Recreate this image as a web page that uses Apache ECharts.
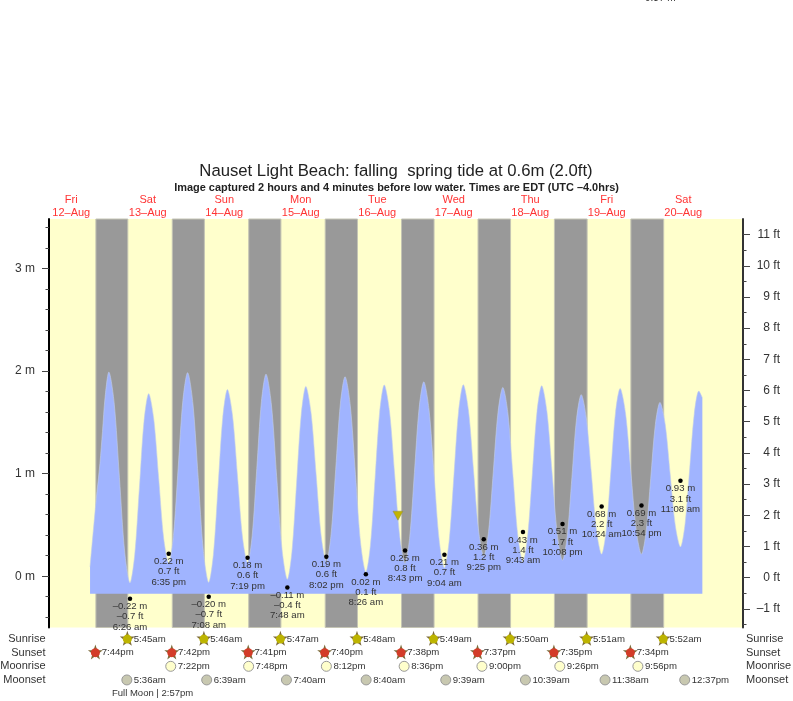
<!DOCTYPE html>
<html><head><meta charset="utf-8">
<style>html,body{margin:0;padding:0;background:#fff}#c{width:793px;height:701px}</style>
<script src="https://cdn.jsdelivr.net/npm/echarts@6/dist/echarts.min.js"></script>
</head><body><div id="c"></div>
<script>
// all times are hours since 12-Aug 00:00 EDT
const dayNames=['Fri','Sat','Sun','Mon','Tue','Wed','Thu','Fri','Sat'];
const dayDates=['12–Aug','13–Aug','14–Aug','15–Aug','16–Aug','17–Aug','18–Aug','19–Aug','20–Aug'];
const dayNoons=[12,36,60,84,108,132,156,180,204];
const sunsetHours=[19.73,43.7,67.68,91.67,115.63,139.62,163.58,187.57];
const sunriseHours=[29.75,53.77,77.78,101.8,125.82,149.83,173.85,197.87];
const sunsetText=['7:44pm','7:42pm','7:41pm','7:40pm','7:38pm','7:37pm','7:35pm','7:34pm'];
const sunriseText=['5:45am','5:46am','5:47am','5:48am','5:49am','5:50am','5:51am','5:52am'];
const moonriseHours=[43.37,67.8,92.2,116.6,141,165.43,189.93];
const moonriseText=['7:22pm','7:48pm','8:12pm','8:36pm','9:00pm','9:26pm','9:56pm'];
const moonsetHours=[29.6,54.65,79.67,104.67,129.65,154.65,179.63,204.62];
const moonsetText=['5:36am','6:39am','7:40am','8:40am','9:39am','10:39am','11:38am','12:37pm'];
const lowHours=[30.43,42.58,55.13,67.32,79.8,92.03,104.43,116.72,129.07,141.42,153.72,166.13,178.4,190.9,203.13];
const lowMeters=[-0.22,0.22,-0.20,0.18,-0.11,0.19,0.02,0.25,0.21,0.36,0.43,0.51,0.68,0.69,0.93];
const lowMeterText=['–0.22 m','0.22 m','–0.20 m','0.18 m','–0.11 m','0.19 m','0.02 m','0.25 m','0.21 m','0.36 m','0.43 m','0.51 m','0.68 m','0.69 m','0.93 m'];
const lowFeetText=['–0.7 ft','0.7 ft','–0.7 ft','0.6 ft','–0.4 ft','0.6 ft','0.1 ft','0.8 ft','0.7 ft','1.2 ft','1.4 ft','1.7 ft','2.2 ft','2.3 ft','3.1 ft'];
const lowTimeText=['6:26 am','6:35 pm','7:08 am','7:19 pm','7:48 am','8:02 pm','8:26 am','8:43 pm','9:04 am','9:25 pm','9:43 am','10:08 pm','10:24 am','10:54 pm','11:08 am'];
const tideHours=[17.9,19.8,21.0,21.8,22.6,23.8,
25.46,27.12,28.77,30.43, 31.9,33.37,34.83,36.3, 37.87,39.44,41.01,42.58, 44.06,45.54,47.02,48.5,
50.16,51.82,53.47,55.13, 56.6,58.07,59.53,61.0, 62.58,64.16,65.74,67.32, 68.77,70.21,71.66,73.1,
74.78,76.45,78.13,79.8, 81.25,82.7,84.15,85.6, 87.21,88.82,90.42,92.03, 93.5,94.97,96.43,97.9,
99.53,101.17,102.8,104.43, 105.87,107.32,108.76,110.2, 111.83,113.46,115.09,116.72, 118.19,119.66,121.13,122.6,
124.22,125.84,127.45,129.07, 130.55,132.04,133.52,135.0, 136.6,138.21,139.82,141.42, 142.92,144.41,145.9,147.4,
148.98,150.56,152.14,153.72, 155.19,156.66,158.13,159.6, 161.23,162.87,164.5,166.13, 167.6,169.07,170.53,172.0,
173.6,175.2,176.8,178.4, 179.85,181.3,182.75,184.2, 185.88,187.55,189.23,190.9, 192.35,193.8,195.25,196.7,
198.31,199.92,201.52,203.13, 204.57,206.02,207.46,208.9, 210.0];
const tideMeters=[0.09,0.74,1.1,1.41,1.74,1.99,
1.69,0.96,0.235,-0.065, 0.204,0.858,1.511,1.78, 1.538,0.953,0.367,0.125, 0.397,1.055,1.713,1.985,
1.686,0.963,0.239,-0.06, 0.214,0.88,1.546,1.82, 1.573,0.975,0.377,0.13, 0.399,1.05,1.701,1.97,
1.678,0.97,0.262,-0.03, 0.244,0.91,1.576,1.85, 1.6,0.995,0.39,0.14, 0.404,1.043,1.681,1.945,
1.667,0.993,0.318,0.04, 0.306,0.953,1.599,1.865, 1.611,0.995,0.379,0.125, 0.383,1.01,1.637,1.895,
1.63,0.988,0.345,0.08, 0.341,0.974,1.606,1.867, 1.623,1.031,0.439,0.195, 0.435,1.018,1.6,1.84,
1.592,0.99,0.388,0.14, 0.391,0.999,1.606,1.857, 1.608,1.006,0.404,0.155, 0.391,0.963,1.534,1.77,
1.543,0.993,0.442,0.215, 0.451,1.023,1.594,1.83, 1.594,1.023,0.451,0.215, 0.431,0.955,1.479,1.695,
1.489,0.99,0.491,0.285, 0.507,1.045,1.583,1.805, 1.74];
const tideBaseMeters=-0.17;
const nowHour=114.5, nowMeters=0.59;
const meterTicks=[0,1,2,3];
const meterMinorTicks=[-0.4,-0.2,0.2,0.4,0.6,0.8,1.2,1.4,1.6,1.8,2.2,2.4,2.6,2.8,3.2,3.4];
const feetTicks=[-1,0,1,2,3,4,5,6,7,8,9,10,11];
const feetMinorTicks=[-1.5,-0.5,0.5,1.5,2.5,3.5,4.5,5.5,6.5,7.5,8.5,9.5,10.5];
const rowNames=['Moonset','Moonrise','Sunset','Sunrise'];
const titleText='Nauset Light Beach: falling  spring tide at 0.6m (2.0ft)';
const subtitleText='Image captured 2 hours and 4 minutes before low water. Times are EDT (UTC –4.0hrs)';
const moonPhaseText='Full Moon | 2:57pm';
const topCutText='9.37 m';

const FONT='"Liberation Sans",Arial,sans-serif', INK='#333';
const STAR='path://M50 0L62 35L98 35L69 57L79 92L50 71L21 92L31 57L2 35L38 35Z';
const zip=(a,b)=>a.map((v,i)=>[v,b[i]]);
const xRange={min:5.02,max:222.75};

function rowSeries(hours,texts,row,fill,kind){
  const data=hours.map((h,i)=>({value:[h,row],text:texts[i]}));
  const out=[];
  if(kind==='star'){
    out.push({type:'scatter',xAxisIndex:1,yAxisIndex:4,data:data.map(d=>d.value),symbol:STAR,symbolSize:15,symbolOffset:[-0.5,-0.7],silent:true,z:5,
      itemStyle:{color:'#7d6b3a',opacity:1}});
  }
  out.push({type:'scatter',xAxisIndex:1,yAxisIndex:4,data:data,symbol:'circle',symbolSize:kind==='star'?9:10,symbolOffset:[-0.5,0],silent:true,z:6,
    itemStyle:{color:fill,borderColor:kind==='star'?fill:'#999',borderWidth:kind==='star'?0:1,opacity:1},
    label:{show:true,position:'right',distance:kind==='star'?1.8:1.5,color:INK,fontFamily:FONT,fontSize:9.6,formatter:p=>p.data.text}});
  return out;
}

const chart=echarts.init(document.getElementById('c'),null,{renderer:'canvas'});
chart.setOption({
  animation:false,backgroundColor:'#fff',
  textStyle:{fontFamily:FONT},
  title:[
    {text:titleText,left:396,top:163,padding:0,textAlign:'center',textStyle:{fontFamily:FONT,fontSize:16.7,fontWeight:'normal',color:'#222'}},
    {text:subtitleText,left:396.5,top:182.5,padding:0,textAlign:'center',textStyle:{fontFamily:FONT,fontSize:10.95,fontWeight:'bold',color:'#222'}}
  ],
  grid:[
    {left:49,right:50,top:219,bottom:73.5,show:true,backgroundColor:'#ffffcc',borderWidth:0,outerBoundsMode:'none'},
    {left:49,right:50,top:632.25,height:54.5,show:false,outerBoundsMode:'none'}
  ],
  xAxis:[
    {type:'value',gridIndex:0,position:'top',...xRange,splitLine:{show:false},axisLine:{show:false},axisTick:{show:false},
      axisLabel:{show:true,customValues:dayNoons,margin:0,color:'#ff3333',fontFamily:FONT,fontSize:11,lineHeight:13,hideOverlap:false,
        formatter:v=>{const i=dayNoons.indexOf(v);return i<0?'':dayNames[i]+'\n'+dayDates[i];}}},
    {type:'value',gridIndex:1,...xRange,show:false,splitLine:{show:false}}
  ],
  yAxis:[
    {type:'value',gridIndex:0,position:'left',min:-0.5,max:3.483,splitLine:{show:false},
      axisLine:{show:true,onZero:false,lineStyle:{color:'#000',width:2}},
      axisTick:{show:true,customValues:meterTicks,length:7,lineStyle:{color:'#444',width:1}},
      axisLabel:{customValues:meterTicks,margin:14,color:INK,fontFamily:FONT,fontSize:12,formatter:v=>v+' m'}},
    {type:'value',gridIndex:0,position:'left',min:-0.5,max:3.483,splitLine:{show:false},
      axisLine:{show:false},axisLabel:{show:false},
      axisTick:{show:true,customValues:meterMinorTicks,length:3.5,lineStyle:{color:'#444',width:1}}},
    {type:'value',gridIndex:0,position:'right',min:-1.597,max:11.5,splitLine:{show:false},
      axisLine:{show:true,onZero:false,lineStyle:{color:'#333',width:2}},
      axisTick:{show:true,customValues:feetTicks,length:7,lineStyle:{color:'#444',width:1}},
      axisLabel:{customValues:feetTicks,margin:37,align:'right',color:INK,fontFamily:FONT,fontSize:12,formatter:v=>(v<0?'–'+(-v):v)+' ft'}},
    {type:'value',gridIndex:0,position:'right',min:-1.597,max:11.5,splitLine:{show:false},
      axisLine:{show:false},axisLabel:{show:false},
      axisTick:{show:true,customValues:feetMinorTicks,length:3.5,lineStyle:{color:'#444',width:1}}},
    {type:'category',gridIndex:1,position:'left',data:rowNames,axisLine:{show:false},axisTick:{show:false},splitLine:{show:false},
      axisLabel:{interval:0,margin:3.5,color:INK,fontFamily:FONT,fontSize:11}},
    {type:'category',gridIndex:1,position:'right',data:rowNames,axisLine:{show:false},axisTick:{show:false},splitLine:{show:false},
      axisLabel:{interval:0,margin:3,color:INK,fontFamily:FONT,fontSize:11}}
  ],
  series:[
    {type:'line',xAxisIndex:0,yAxisIndex:0,data:[],z:1,silent:true,
      markArea:{silent:true,z:1,itemStyle:{color:'#999999',borderColor:'#c4c4b4',borderWidth:1},
        data:sunsetHours.map((h,i)=>[{xAxis:h},{xAxis:sunriseHours[i]}])}},
    {type:'line',xAxisIndex:0,yAxisIndex:0,data:zip(tideHours,tideMeters),smooth:0.3,symbol:'none',silent:true,z:2,
      lineStyle:{color:'#c3cee8',width:0.6},
      areaStyle:{color:'#a0b4ff',opacity:1,origin:tideBaseMeters}},
    {type:'scatter',xAxisIndex:0,yAxisIndex:0,data:lowHours.map((h,i)=>({value:[h,lowMeters[i]],a:lowMeterText[i],b:lowFeetText[i],c:lowTimeText[i]})),
      symbol:'circle',symbolSize:4.5,silent:true,z:4,clip:false,itemStyle:{color:'#000',opacity:1},
      label:{show:true,position:'bottom',distance:0.5,color:INK,fontFamily:FONT,fontSize:9.6,lineHeight:10.2,formatter:p=>p.data.a+'\n'+p.data.b+'\n'+p.data.c}},
    {type:'scatter',xAxisIndex:0,yAxisIndex:0,data:[[nowHour,nowMeters]],symbol:'triangle',symbolRotate:180,symbolSize:[10,9],silent:true,z:5,
      itemStyle:{color:'#c2b400',borderColor:'#8a8a50',borderWidth:0.5,opacity:1}},
    ...rowSeries(sunriseHours,sunriseText,3,'#bdb400','star'),
    ...rowSeries(sunsetHours,sunsetText,2,'#d33c28','star'),
    ...rowSeries(moonriseHours,moonriseText,1,'#ffffcc','moon'),
    ...rowSeries(moonsetHours,moonsetText,0,'#c8c8b0','moon')
  ],
  graphic:[
    {type:'text',left:112,top:688,style:{text:moonPhaseText,fontFamily:FONT,fontSize:9.5,fill:INK}},
    {type:'text',left:645,top:-6.5,style:{text:topCutText,fontFamily:FONT,fontSize:10,fill:INK}}
  ]
});
</script></body></html>
